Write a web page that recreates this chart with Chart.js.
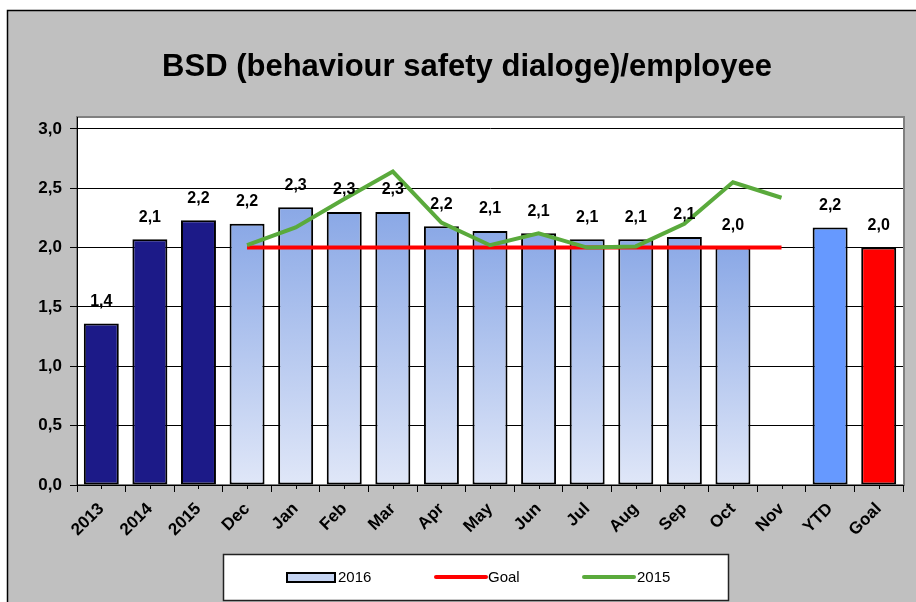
<!DOCTYPE html>
<html lang="en">
<head>
    <meta charset="UTF-8">
    <title>BSD/employee</title>
    <script src="https://cdn.jsdelivr.net/npm/chart.js"></script>
    <style>
        html, body { margin: 0; padding: 0; background: #fff; }
        #wrap { width: 916px; height: 602px; }
    </style>
</head>
<body>
<div id="wrap"><canvas id="myChart" width="916" height="602"></canvas></div>
<script>
    const categories = ['2013', '2014', '2015', 'Dec', 'Jan', 'Feb', 'Mar', 'Apr', 'May', 'Jun', 'Jul', 'Aug', 'Sep', 'Oct', 'Nov', 'YTD', 'Goal'];
    const values2016 = [1.36, 2.07, 2.23, 2.20, 2.34, 2.30, 2.30, 2.18, 2.14, 2.12, 2.07, 2.07, 2.09, 2.00, null, 2.17, 2.00];
    const goalLine = [null, null, null, 2.0, 2.0, 2.0, 2.0, 2.0, 2.0, 2.0, 2.0, 2.0, 2.0, 2.0, 2.0, null, null];
    const values2015 = [null, null, null, 2.02, 2.17, 2.41, 2.64, 2.21, 2.02, 2.12, 2.00, 2.01, 2.20, 2.55, 2.42, null, null];
    const yTicks = [0, 0.5, 1.0, 1.5, 2.0, 2.5, 3.0];

    const FONT = 'Liberation Sans, Arial, sans-serif';

    function fmt(v) {
        return v.toFixed(1).replace('.', ',');
    }

    function barColor(ctx) {
        const i = ctx.dataIndex;
        if (i < 3) return '#1c1a88';
        if (categories[i] === 'YTD') return '#6699ff';
        if (categories[i] === 'Goal') return '#ff0000';
        const chart = ctx.chart;
        const y = chart.scales.y;
        const v = ctx.raw;
        if (!y || v == null || !chart.chartArea) return '#b3c6ef';
        const g = chart.ctx.createLinearGradient(0, y.getPixelForValue(v), 0, y.getPixelForValue(0));
        g.addColorStop(0, '#8aa8e6');
        g.addColorStop(1, '#e0e7f8');
        return g;
    }

    // gray frame, white plot area, title, minor ticks, data labels, legend
    const decor = {
        id: 'decor',
        beforeDraw(chart) {
            const c = chart.ctx, a = chart.chartArea;
            c.save();
            c.fillStyle = '#ffffff';
            c.fillRect(0, 0, chart.width, chart.height);
            c.fillStyle = '#c0c0c0';
            c.fillRect(7, 10, chart.width - 7, chart.height - 10);
            c.strokeStyle = '#000';
            c.lineWidth = 1.5;
            c.beginPath();
            c.moveTo(7.5, chart.height);
            c.lineTo(7.5, 10.5);
            c.lineTo(chart.width, 10.5);
            c.stroke();
            c.fillStyle = '#ffffff';
            c.fillRect(a.left, a.top, a.width, a.height);
            c.strokeStyle = '#808080';
            c.lineWidth = 2;
            c.strokeRect(a.left, a.top, a.width + 1, a.height);

            c.fillStyle = '#000';
            c.font = 'bold 31px ' + FONT;
            c.textAlign = 'center';
            c.textBaseline = 'middle';
            c.fillText('BSD (behaviour safety dialoge)/employee', 467, 67);
            c.restore();
        },
        afterDraw(chart) {
            const c = chart.ctx, a = chart.chartArea, x = chart.scales.x;
            c.save();
            c.strokeStyle = '#000';
            c.lineWidth = 1;
            categories.forEach((_, i) => {
                const px = Math.round(x.getPixelForValue(i)) + 0.5;
                c.beginPath();
                c.moveTo(px, a.bottom);
                c.lineTo(px, a.bottom + 4);
                c.stroke();
            });

            // data labels
            const meta = chart.getDatasetMeta(0);
            c.fillStyle = '#000';
            c.font = 'bold 16px ' + FONT;
            c.textAlign = 'center';
            c.textBaseline = 'middle';
            meta.data.forEach((el, i) => {
                const v = values2016[i];
                if (v == null) return;
                c.fillText(fmt(v), el.x, el.y - 22);
            });

            // legend
            const lx = 223, ly = 554, lw = 505, lh = 46;
            c.fillStyle = '#ffffff';
            c.fillRect(lx, ly, lw, lh);
            c.strokeStyle = '#222';
            c.lineWidth = 1.5;
            c.strokeRect(lx + 0.5, ly + 0.5, lw, lh);
            const my = ly + 23;
            c.fillStyle = '#c5d4f2';
            c.fillRect(287, my - 4, 48, 9);
            c.strokeStyle = '#000';
            c.lineWidth = 2;
            c.strokeRect(287, my - 4, 48, 9);
            c.lineCap = 'round';
            c.lineWidth = 4;
            c.strokeStyle = '#ff0000';
            c.beginPath(); c.moveTo(436, my); c.lineTo(486, my); c.stroke();
            c.strokeStyle = '#5aaa3c';
            c.beginPath(); c.moveTo(584, my); c.lineTo(634, my); c.stroke();
            c.fillStyle = '#000';
            c.font = '15px ' + FONT;
            c.textAlign = 'left';
            c.textBaseline = 'middle';
            c.fillText(chart.data.datasets[0].label, 338, my + 1);
            c.fillText(chart.data.datasets[1].label, 488, my + 1);
            c.fillText(chart.data.datasets[2].label, 637, my + 1);
            c.restore();
        }
    };

    const data = {
        labels: categories,
        datasets: [{
            type: 'bar',
            label: '2016',
            data: values2016,
            backgroundColor: barColor,
            borderColor: '#000',
            borderWidth: 2,
            borderSkipped: false,
            categoryPercentage: 1.0,
            barPercentage: 0.72,
            order: 3
        }, {
            type: 'line',
            label: 'Goal',
            data: goalLine,
            borderColor: '#ff0000',
            borderWidth: 4,
            pointRadius: 0,
            tension: 0,
            spanGaps: false,
            order: 2
        }, {
            type: 'line',
            label: '2015',
            data: values2015,
            borderColor: '#5aaa3c',
            borderWidth: 4,
            pointRadius: 0,
            tension: 0,
            order: 1
        }]
    };

    const config = {
        data: data,
        options: {
            responsive: false,
            animation: false,
            devicePixelRatio: 1,
            layout: { padding: { left: 0, right: 13, top: 117, bottom: 47 } },
            plugins: {
                legend: { display: false },
                title: { display: false },
                tooltip: { enabled: false }
            },
            scales: {
                x: {
                    offset: true,
                    afterFit(scale) { scale.height = 70; },
                    grid: {
                        offset: true,
                        drawOnChartArea: false,
                        drawTicks: true,
                        tickLength: 7,
                        color: '#000'
                    },
                    border: { display: true, color: '#000', width: 1 },
                    ticks: {
                        color: '#000',
                        font: { family: FONT, size: 17, weight: 'bold' },
                        minRotation: 45,
                        maxRotation: 45,
                        padding: 7,
                        autoSkip: false
                    }
                },
                y: {
                    min: 0,
                    max: 3.1,
                    afterFit(scale) { scale.width = 77; },
                    afterBuildTicks(scale) {
                        scale.ticks = yTicks.map(v => ({ value: v }));
                    },
                    grid: {
                        color: '#000',
                        lineWidth: 1,
                        drawTicks: true,
                        tickLength: 7
                    },
                    border: { display: true, color: '#000', width: 1 },
                    ticks: {
                        color: '#000',
                        font: { family: FONT, size: 17, weight: 'bold' },
                        padding: 8,
                        callback: (v) => fmt(v)
                    }
                }
            }
        },
        plugins: [decor]
    };

    const context = document.getElementById('myChart').getContext('2d');
    const myChart = new Chart(context, config);
</script>
</body>
</html>
